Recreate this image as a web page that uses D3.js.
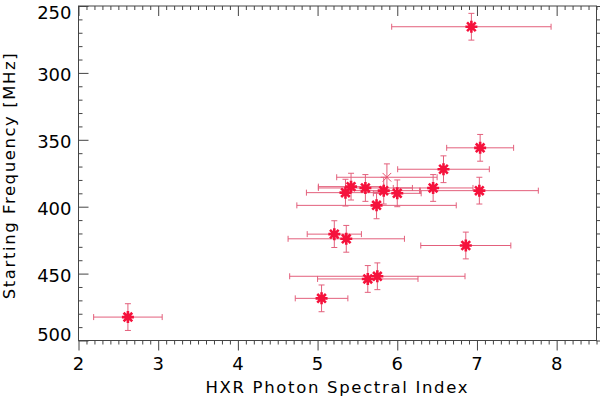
<!DOCTYPE html>
<html>
<head>
<meta charset="utf-8">
<script src="https://cdn.jsdelivr.net/npm/d3@7"></script>
<style>
  body { margin: 0; background: #fff; }
  svg { display: block; }
</style>
</head>
<body>
<div id="chart"></div>
<script>
// spectral index vs starting frequency
var index   = [6.93, 7.04, 6.58, 5.87, 5.42, 5.60, 5.35, 5.83, 6.00, 6.45, 7.03, 5.74, 5.21, 5.36, 6.86, 5.63, 5.75, 5.05, 2.62]
var freq    = [265.5, 356, 372, 378, 385, 386, 389.5, 388, 390, 386, 388, 399, 420.5, 424, 429, 454, 452, 468.5, 482.5]
var indexErr = [1.0, 0.42, 0.575, 0.63, 0.41, 0.59, 0.49, 0.45, 0.3, 0.5, 0.74, 1.0, 0.34, 0.73, 0.565, 0.63, 1.1, 0.33, 0.43]
var freqErr = [10, 10, 10, 10, 10, 10, 10, 10, 10, 10, 10, 10, 10, 10, 10, 10, 10, 10, 10]
var thin    = [0, 0, 0, 1, 0, 0, 0, 0, 0, 0, 0, 0, 0, 0, 0, 0, 0, 0, 0]

var xTicks = [2, 3, 4, 5, 6, 7, 8]
var yTicks = [250, 300, 350, 400, 450, 500]

var data = index.map(function(d, i) {
  return {x: d, y: freq[i], ex: indexErr[i], ey: freqErr[i], thin: thin[i]}
})

var W = 600, H = 399
var margin = {top: 6, right: 3.5, bottom: 58.5, left: 78.5},
    width = W - margin.left - margin.right,
    height = H - margin.top - margin.bottom;

var svg = d3.select("#chart").append("svg")
    .attr("width", W)
    .attr("height", H)
  .append("g")
    .attr("transform", "translate(" + margin.left + "," + margin.top + ")");

var x = d3.scaleLinear().domain([2, 8.5]).range([0, width])
var y = d3.scaleLinear().domain([250, 500]).range([0, height])

var font = "DejaVu Sans"
var axisColor = "#444"
var minorX = d3.range(2, 8.51, 0.1).filter(function(v) { return Math.abs(v - Math.round(v)) > 0.01 })
var minorY = d3.range(250, 501, 10).filter(function(v) { return v % 50 != 0 })

// frame
svg.append("rect")
  .attr("width", width).attr("height", height)
  .attr("fill", "none").attr("stroke", axisColor).attr("stroke-width", 1)

function ticks(axis, vals, size, tr) {
  var g = svg.append("g").attr("transform", tr || null)
    .call(axis.tickValues(vals).tickSize(size).tickFormat(""))
  g.select(".domain").remove()
  g.selectAll("line").attr("stroke", axisColor)
  return g
}
// major + minor ticks on all four sides, pointing inward
ticks(d3.axisTop(x), xTicks, -10, "translate(0," + height + ")")
ticks(d3.axisTop(x), minorX, -4, "translate(0," + height + ")")
ticks(d3.axisBottom(x), xTicks, 10)
ticks(d3.axisBottom(x), minorX, 4)
ticks(d3.axisRight(y), yTicks, 10)
ticks(d3.axisRight(y), minorY, 4)
ticks(d3.axisLeft(y), yTicks, -10, "translate(" + width + ",0)")
ticks(d3.axisLeft(y), minorY, -4, "translate(" + width + ",0)")

// tick labels
svg.append("g").selectAll("text")
  .data(xTicks).enter().append("text")
    .attr("x", function(d) { return x(d) })
    .attr("y", height + 29)
    .attr("text-anchor", "middle")
    .style("font-family", font).style("font-size", "18px")
    .text(function(d) { return d })

svg.append("g").selectAll("text")
  .data(yTicks).enter().append("text")
    .attr("x", -7)
    .attr("y", function(d) {
      if (d == 250) return y(d) + 7
      if (d == 500) return y(d) - 6
      return y(d) + 2
    })
    .attr("dy", "0.36em")
    .attr("text-anchor", "end")
    .style("font-family", font).style("font-size", "18px")
    .text(function(d) { return d })

// axis titles
svg.append("text")
  .attr("x", width / 2 - 1).attr("y", height + 52)
  .attr("text-anchor", "middle")
  .attr("textLength", 262).attr("lengthAdjust", "spacing")
  .style("font-family", font).style("font-size", "16.5px")
  .text("HXR Photon Spectral Index")

svg.append("text")
  .attr("transform", "translate(" + (15 - margin.left) + "," + (height / 2 + 3) + ") rotate(-90)")
  .attr("text-anchor", "middle")
  .attr("textLength", 246).attr("lengthAdjust", "spacing")
  .style("font-family", font).style("font-size", "16.5px")
  .text("Starting Frequency [MHz]")

// error bars
var errColor = "#e3607c"
var cap = 3
var eb = svg.append("g").attr("stroke", errColor).attr("stroke-width", 1).attr("fill", "none")
data.forEach(function(d) {
  var x0 = x(d.x - d.ex), x1 = x(d.x + d.ex), cy = y(d.y)
  var y0 = y(d.y - d.ey), y1 = y(d.y + d.ey), cx = x(d.x)
  eb.append("path").attr("d",
    "M" + x0 + "," + cy + "H" + x1 +
    "M" + x0 + "," + (cy - cap) + "V" + (cy + cap) +
    "M" + x1 + "," + (cy - cap) + "V" + (cy + cap) +
    "M" + cx + "," + y0 + "V" + y1 +
    "M" + (cx - cap) + "," + y0 + "H" + (cx + cap) +
    "M" + (cx - cap) + "," + y1 + "H" + (cx + cap))
})

// asterisk markers
var r = 6
svg.append("g").selectAll("path")
  .data(data).enter().append("path")
    .attr("transform", function(d) { return "translate(" + x(d.x) + "," + y(d.y) + ")" })
    .attr("d", function(d) {
      var a = r * 0.72
      if (d.thin) return "M" + -a + "," + -a + "L" + a + "," + a + "M" + -a + "," + a + "L" + a + "," + -a
      return "M0," + -r + "V" + r + "M" + -r + ",0H" + r +
             "M" + -a + "," + -a + "L" + a + "," + a + "M" + -a + "," + a + "L" + a + "," + -a
    })
    .attr("stroke", function(d) { return d.thin ? "#e8506e" : "#f5123c" })
    .attr("stroke-width", function(d) { return d.thin ? 1 : 2.6 })
    .attr("fill", "none")
</script>
</body>
</html>
